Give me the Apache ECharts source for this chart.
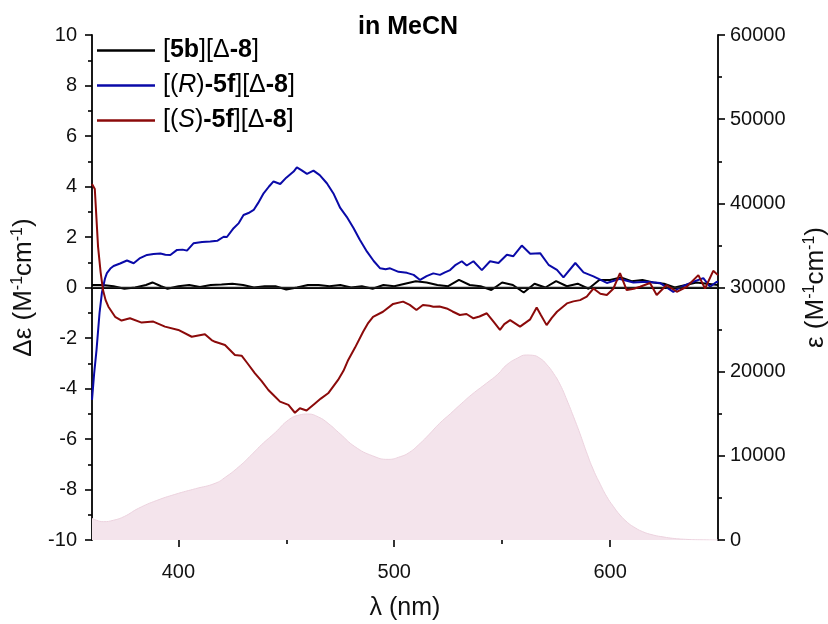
<!DOCTYPE html>
<html>
<head>
<meta charset="utf-8">
<script src="https://cdn.jsdelivr.net/npm/echarts@6/dist/echarts.min.js"></script>
<style>html,body{margin:0;padding:0;background:#fff}#c{width:828px;height:624px}</style>
</head>
<body>
<div id="c"></div>
<script>
// ---- data ----
const blackX = [360,365,370,375,380,385,388,392,395,400,405,410,415,420,425,430,435,440,445,450,455,460,465,470,475,480,485,490,495,500,505,510,515,520,525,530,535,540,545,550,555,560,565,570,575,580,585,590,595,600,605,610,615,620,625,630,635,640,645,650];
const blackY = [0.1,0.1,0.05,-0.05,0.0,0.1,0.2,0.05,-0.05,0.05,0.1,0.02,0.1,0.12,0.15,0.1,0.0,0.05,0.05,-0.08,0.0,0.1,0.1,0.05,0.1,0.0,0.05,-0.05,0.1,0.05,0.15,0.25,0.2,0.1,0.05,0.3,0.1,0.05,-0.1,0.2,0.1,-0.2,0.15,0.0,0.25,0.05,0.15,-0.05,0.3,0.3,0.4,0.25,0.3,0.2,0.15,0.0,0.1,0.2,0.15,0.1];

const rX = [360,361,362.1,363.5,364.6,366,366.9,368.5,370,373,376.2,379.3,382,385.5,388.5,391.7,394,396.3,399.4,402,404,407,411,414.8,418,421,422.5,425.6,428,430.2,432.5,434.9,437,439.5,442,444.1,447.2,450,453.4,454.9,457,459.6,462.6,465.5,468.8,472,475,478,481.2,484,487.4,490.5,493.5,496,498.1,502,505.9,509,512,515,518.1,521.2,523.5,525.9,528.5,531.3,533.6,536.7,540.6,544.4,548.3,552.2,555.2,559.1,563,567.6,571.5,575.4,578.4,583.9,587.7,592.3,598.5,604.6,610.8,617,623.1,629.3,632.4,638.6,643.2,646.3,649.4,650];
const rY = [-4.45,-3.4,-2.47,-1.0,-0.2,0.35,0.57,0.75,0.85,0.95,1.07,0.96,1.15,1.29,1.33,1.35,1.3,1.29,1.49,1.5,1.46,1.75,1.8,1.82,1.85,2.01,2.0,2.35,2.55,2.87,2.95,3.07,3.35,3.73,4.0,4.2,4.1,4.35,4.59,4.76,4.65,4.5,4.63,4.45,4.13,3.7,3.15,2.8,2.35,1.9,1.42,1.05,0.76,0.72,0.76,0.62,0.58,0.5,0.3,0.45,0.56,0.5,0.6,0.69,0.9,1.04,0.87,1.04,0.69,1.04,0.97,1.3,1.24,1.66,1.34,1.36,0.9,0.7,0.4,0.97,0.6,0.44,0.18,0.34,0.2,0.23,0.18,-0.17,0.0,0.23,0.37,0.03,0.23,0.2];

const sX = [360,361.3,362.8,364,365.1,366.3,367.6,370.7,373.7,377.6,383,388.4,393.8,400,406.2,412.3,415.4,417,421.6,426.2,429.3,432,435.5,438.5,441.7,444.5,447.1,451,454,456.3,459.4,463.3,466,469.4,474,476.5,478.7,481.8,485.6,488,490.2,494.8,499.5,504.1,507.2,510.3,513.3,516.4,518.1,521,524.3,527,530.4,533.5,536.7,539.5,542.9,546,549,551,553.7,558.3,563,566,568,570.6,573,575.4,580,583,586.1,589.2,592.3,595.5,598.5,601.5,604.6,607.7,611,613.9,618.5,621.6,626.2,630.9,635.5,640.9,644,647.8,650];
const sY = [4.1,3.9,1.62,0.6,-0.1,-0.5,-0.76,-1.16,-1.31,-1.22,-1.39,-1.35,-1.55,-1.68,-1.95,-1.85,-2.08,-2.15,-2.28,-2.67,-2.7,-3.0,-3.4,-3.7,-4.06,-4.3,-4.52,-4.65,-4.96,-4.78,-4.87,-4.59,-4.4,-4.19,-3.66,-3.3,-2.87,-2.39,-1.75,-1.4,-1.16,-0.96,-0.65,-0.56,-0.69,-0.89,-0.69,-0.72,-0.76,-0.75,-0.83,-0.95,-1.09,-1.05,-1.22,-1.15,-1.02,-1.35,-1.68,-1.45,-1.29,-1.55,-1.26,-0.79,-1.1,-1.49,-1.2,-0.96,-0.63,-0.55,-0.5,-0.36,-0.04,-0.25,-0.3,-0.05,0.57,-0.1,-0.05,0.03,0.18,-0.3,0.1,-0.17,0.03,0.49,-0.04,0.66,0.49];

const absX = [360,362,365.3,370,375,381.5,390,400,408,417,422,428,433,438.4,445,451,456,460,465,469.4,475,481.8,490,497.2,502.8,507,512,516,521,526,530.4,536,542.7,548,552,557,561.2,564,567.6,570.5,573.8,577,580,583,586,589,592.3,595.5,598.5,601.5,604.6,608,610.8,615,620,625,629,635,641.6,650];
const absY = [2580,2350,2180,2350,2800,3760,4700,5540,6100,6730,7500,8700,9900,11290,12800,14260,14850,14970,14600,13860,12600,11090,10000,9580,9900,10400,11480,12500,13860,15000,16040,17300,18620,19700,20790,21600,21980,21950,21580,20900,19800,18400,16630,14700,12680,10500,8320,6600,5140,4000,2970,2100,1580,1000,590,350,200,80,20,0];

const xLabels = [400,500,600];
const xMinor = [450,550];
const seriesNames = ['[5b][Δ-8]','[(R)-5f][Δ-8]','[(S)-5f][Δ-8]'];
const legendRich = {
  '[5b][Δ-8]': '[{b|5b}][Δ{b|-8}]',
  '[(R)-5f][Δ-8]': '[({i|R}){b|-5f}][Δ{b|-8}]',
  '[(S)-5f][Δ-8]': '[({i|S}){b|-5f}][Δ{b|-8}]'
};
const titleText = 'in MeCN';

const zip = (xs, ys) => xs.map((x, i) => [x, ys[i]]);
const FF = '"Liberation Sans", Arial, sans-serif';
const axisLbl = {fontFamily: FF, fontSize: 20, color: '#111'};
const tickStyle = {color: '#000', width: 1.6};
const supRich = {s: {fontFamily: FF, fontSize: 16, verticalAlign: 'top', padding: [0,0,11,0], color: '#111'}};

const chart = echarts.init(document.getElementById('c'), null, {renderer: 'canvas'});
chart.setOption({
  animation: false,
  backgroundColor: '#fff',
  title: {
    text: titleText, left: 403, top: 10, textAlign: 'center',
    textStyle: {fontFamily: FF, fontSize: 25, fontWeight: 'bold', color: '#000'}
  },
  legend: {
    data: seriesNames, orient: 'vertical', left: 92, top: 33,
    icon: 'rect', itemWidth: 58, itemHeight: 2.5, itemGap: 10,
    formatter: n => legendRich[n],
    textStyle: {
      fontFamily: FF, fontSize: 25, color: '#000', padding: [0, 0, 0, 3],
      rich: {
        b: {fontFamily: FF, fontSize: 25, fontWeight: 'bold', color: '#000'},
        i: {fontFamily: FF, fontSize: 25, fontStyle: 'italic', color: '#000'}
      }
    }
  },
  grid: {left: 92, right: 110, top: 35, bottom: 84, outerBoundsMode: 'none'},
  xAxis: [{
    type: 'value', min: 360, max: 650, position: 'bottom',
    name: 'λ (nm)', nameLocation: 'middle', nameGap: 56,
    nameTextStyle: {fontFamily: FF, fontSize: 25, color: '#111'},
    axisLine: {lineStyle: {color: '#000', width: 1.8}},
    axisTick: {show: false},
    axisLabel: Object.assign({customValues: xLabels, margin: 22}, axisLbl),
    splitLine: {show: false}
  }, {
    type: 'value', min: 360, max: 650, position: 'bottom', offset: 0,
    axisLine: {show: false},
    axisTick: {show: true, inside: false, customValues: xLabels, length: 7, lineStyle: tickStyle},
    axisLabel: {show: false},
    splitLine: {show: false}
  }, {
    type: 'value', min: 360, max: 650, position: 'bottom', offset: 0,
    axisLine: {show: false},
    axisTick: {show: true, inside: false, customValues: xMinor, length: 4, lineStyle: tickStyle},
    axisLabel: {show: false},
    splitLine: {show: false}
  }],
  yAxis: [{
    type: 'value', min: -10, max: 10, interval: 2, position: 'left',
    name: 'Δε (M{s|-1}cm{s|-1})', nameLocation: 'middle', nameGap: 55, nameRotate: 90,
    nameTextStyle: {fontFamily: FF, fontSize: 26, color: '#111', rich: supRich},
    axisLine: {show: true, lineStyle: {color: '#000', width: 1.8}},
    axisTick: {length: 7, lineStyle: tickStyle},
    minorTick: {show: true, splitNumber: 2, length: 4, lineStyle: tickStyle},
    axisLabel: Object.assign({margin: 15}, axisLbl),
    splitLine: {show: false}
  }, {
    type: 'value', min: 0, max: 60000, interval: 10000, position: 'right',
    name: 'ε (M{s|-1}cm{s|-1})', nameLocation: 'middle', nameGap: 84, nameRotate: 90,
    nameTextStyle: {fontFamily: FF, fontSize: 26, color: '#111', rich: supRich},
    axisLine: {show: true, lineStyle: {color: '#000', width: 1.8}},
    axisTick: {length: 7, lineStyle: tickStyle},
    minorTick: {show: true, splitNumber: 2, length: 4, lineStyle: tickStyle},
    axisLabel: Object.assign({margin: 12, formatter: v => String(v)}, axisLbl),
    splitLine: {show: false}
  }],
  series: [{
    name: 'abs', type: 'line', xAxisIndex: 0, yAxisIndex: 1, smooth: true, symbol: 'none',
    data: zip(absX, absY), z: 1,
    lineStyle: {color: '#ecd2de', width: 1},
    areaStyle: {color: '#f4e4ec', opacity: 1}
  }, {
    name: seriesNames[0], type: 'line', xAxisIndex: 0, yAxisIndex: 0, symbol: 'none',
    data: zip(blackX, blackY), z: 3, color: '#000',
    lineStyle: {color: '#000', width: 2},
    markLine: {silent: true, symbol: 'none', label: {show: false},
      lineStyle: {color: '#222', width: 1.3, type: 'solid'}, data: [{yAxis: 0}]}
  }, {
    name: seriesNames[1], type: 'line', xAxisIndex: 0, yAxisIndex: 0, symbol: 'none',
    data: zip(rX, rY), z: 4, color: '#0a0aa8',
    lineStyle: {color: '#0a0aa8', width: 2}
  }, {
    name: seriesNames[2], type: 'line', xAxisIndex: 0, yAxisIndex: 0, symbol: 'none',
    data: zip(sX, sY), z: 5, color: '#8b0a0a',
    lineStyle: {color: '#8b0a0a', width: 2}
  }]
});
</script>
</body>
</html>
